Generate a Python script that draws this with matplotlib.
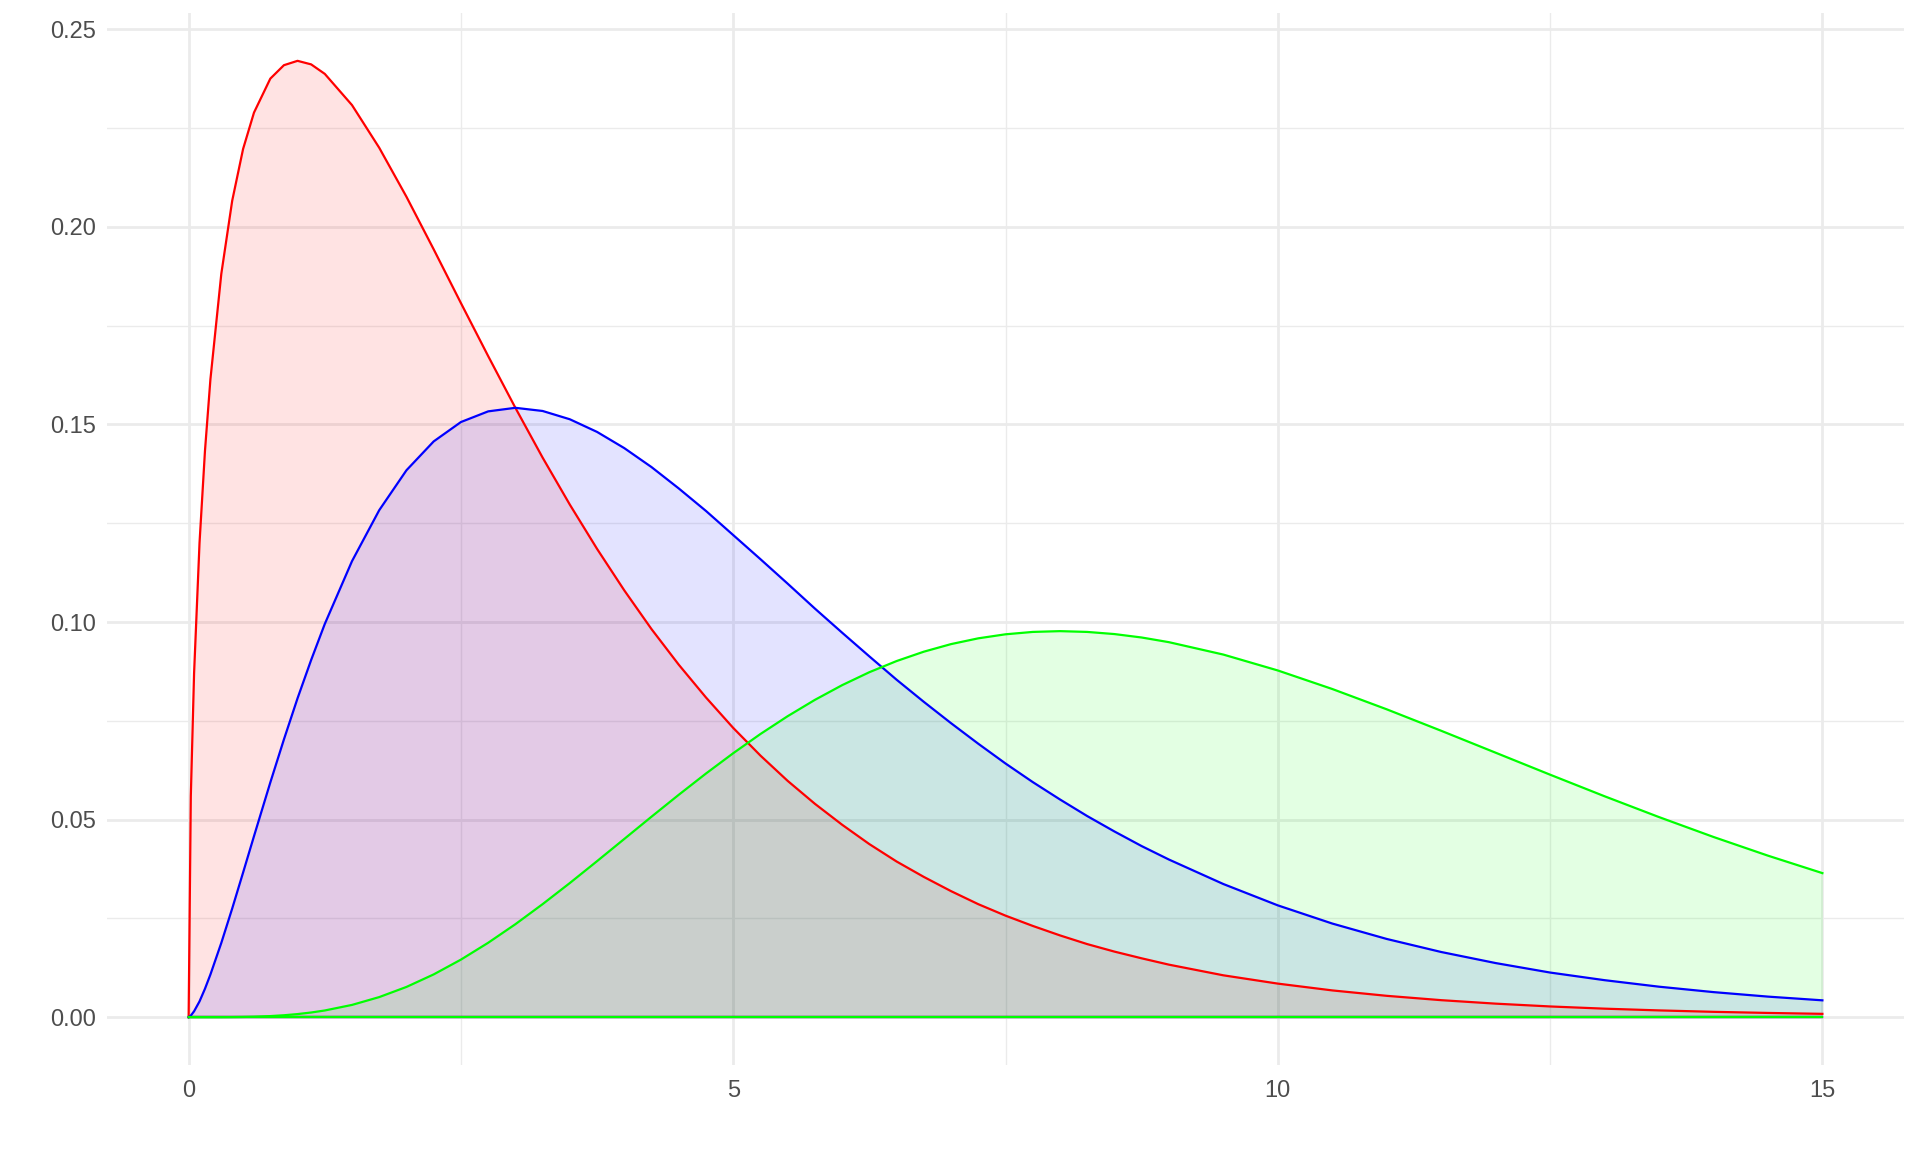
import numpy as np
import matplotlib.pyplot as plt

# values (three right-skewed density curves)
x = [0, 0.02, 0.05, 0.1, 0.15, 0.2, 0.3, 0.4, 0.5, 0.6,
     0.75, 0.875, 1, 1.125, 1.25, 1.5,
     1.75, 2, 2.25, 2.5, 2.75, 3,
     3.25, 3.5, 3.75, 4, 4.25, 4.5, 4.75, 5, 5.25, 5.5, 5.75, 6,
     6.25, 6.5, 6.75, 7, 7.25, 7.5, 7.75, 8, 8.25, 8.5, 8.75, 9,
     9.5, 10, 10.5, 11, 11.5, 12, 12.5, 13, 13.5, 14, 14.5, 15]

red_y = [0, 0.0559, 0.0870, 0.1200, 0.1433, 0.1614, 0.1881, 0.2066, 0.2197, 0.2289,
         0.2375, 0.2409, 0.2420, 0.2411, 0.2387, 0.2308,
         0.2200, 0.2076, 0.1943, 0.1807, 0.1673, 0.1542,
         0.1416, 0.1297, 0.1185, 0.1080, 0.0982, 0.0892, 0.0809, 0.0732, 0.0662, 0.0598,
         0.0540, 0.0487, 0.0438, 0.0394, 0.0355, 0.0319, 0.0286, 0.0257, 0.0231, 0.0207,
         0.0185, 0.0166, 0.0149, 0.0133,
         0.0106, 0.0085, 0.00678, 0.00541, 0.00431, 0.00343, 0.00272, 0.00216,
         0.00172, 0.00136, 0.00108, 0.00085]

blue_y = [0, 0.0004, 0.0015, 0.0040, 0.0072, 0.0108, 0.0188, 0.0275, 0.0366, 0.0458,
          0.0594, 0.0703, 0.0807, 0.0904, 0.0995, 0.1154,
          0.1283, 0.1384, 0.1457, 0.1506, 0.1533, 0.1542,
          0.1534, 0.1513, 0.1481, 0.1440, 0.1392, 0.1338, 0.1281, 0.1220, 0.1159, 0.1097,
          0.1034, 0.0973, 0.0913, 0.0854, 0.0798, 0.0744, 0.0692, 0.0642, 0.0595, 0.0551,
          0.0509, 0.0470, 0.0433, 0.0399,
          0.0337, 0.0283, 0.0237, 0.0198, 0.0165, 0.0137, 0.0113, 0.00937,
          0.00772, 0.00635, 0.00521, 0.00427]

green_y = [0, 0, 0, 0, 0, 0, 0.000005, 0.000027, 0.000063, 0.000125,
           0.000283, 0.000493, 0.00079, 0.00119, 0.00170, 0.00311,
           0.00509, 0.00766, 0.01083, 0.01457, 0.01883, 0.02353,
           0.02861, 0.03395, 0.03949, 0.04511, 0.05074, 0.05628, 0.06166, 0.06680,
           0.07166, 0.07617, 0.08030, 0.08402, 0.08730, 0.09012, 0.09249, 0.09441,
           0.09587, 0.09689, 0.09749, 0.09769, 0.09749, 0.09695, 0.09608, 0.09490,
           0.09176, 0.08774, 0.08305, 0.07791, 0.07248, 0.06693, 0.06137, 0.05591,
           0.05064, 0.04561, 0.04088, 0.03646]

series = [(red_y, "#FF0000"), (blue_y, "#0000FF"), (green_y, "#00FF00")]

plt.rcParams['font.family'] = ['Liberation Sans', 'DejaVu Sans']

fig = plt.figure(figsize=(19.2, 11.52), dpi=100)
ax = fig.add_axes([0.0557, 0.0755, 0.9360, 0.9132])

# grid (theme_minimal look)
for v in [2.5, 7.5, 12.5]:
    ax.axvline(v, color="#EBEBEB", lw=1.0, zorder=0)
for v in [0.025, 0.075, 0.125, 0.175, 0.225]:
    ax.axhline(v, color="#EBEBEB", lw=1.0, zorder=0)
for v in [0, 5, 10, 15]:
    ax.axvline(v, color="#EBEBEB", lw=2.0, zorder=0)
for v in [0, 0.05, 0.10, 0.15, 0.20, 0.25]:
    ax.axhline(v, color="#EBEBEB", lw=2.0, zorder=0)

for ys, col in series:
    ax.fill_between(x, ys, 0, color=col, alpha=0.11, lw=0, zorder=2)
    ax.plot(x, ys, color=col, lw=1.6, zorder=3, solid_joinstyle="round")
    ax.plot([x[0], x[-1]], [0, 0], color=col, lw=1.6, zorder=3)

ax.set_xlim(-0.75, 15.75)
ax.set_ylim(-0.0121, 0.2541)
ax.set_xticks([0, 5, 10, 15])
ax.set_xticklabels(["0", "5", "10", "15"])
ax.set_yticks([0, 0.05, 0.10, 0.15, 0.20, 0.25])
ax.set_yticklabels(["0.00", "0.05", "0.10", "0.15", "0.20", "0.25"])
ax.tick_params(length=0, labelsize=17, labelcolor="#4D4D4D")
ax.tick_params(axis="x", pad=11)
ax.tick_params(axis="y", pad=8)
for s in ax.spines.values():
    s.set_visible(False)

fig.savefig("out.png", dpi=100, facecolor="white")
